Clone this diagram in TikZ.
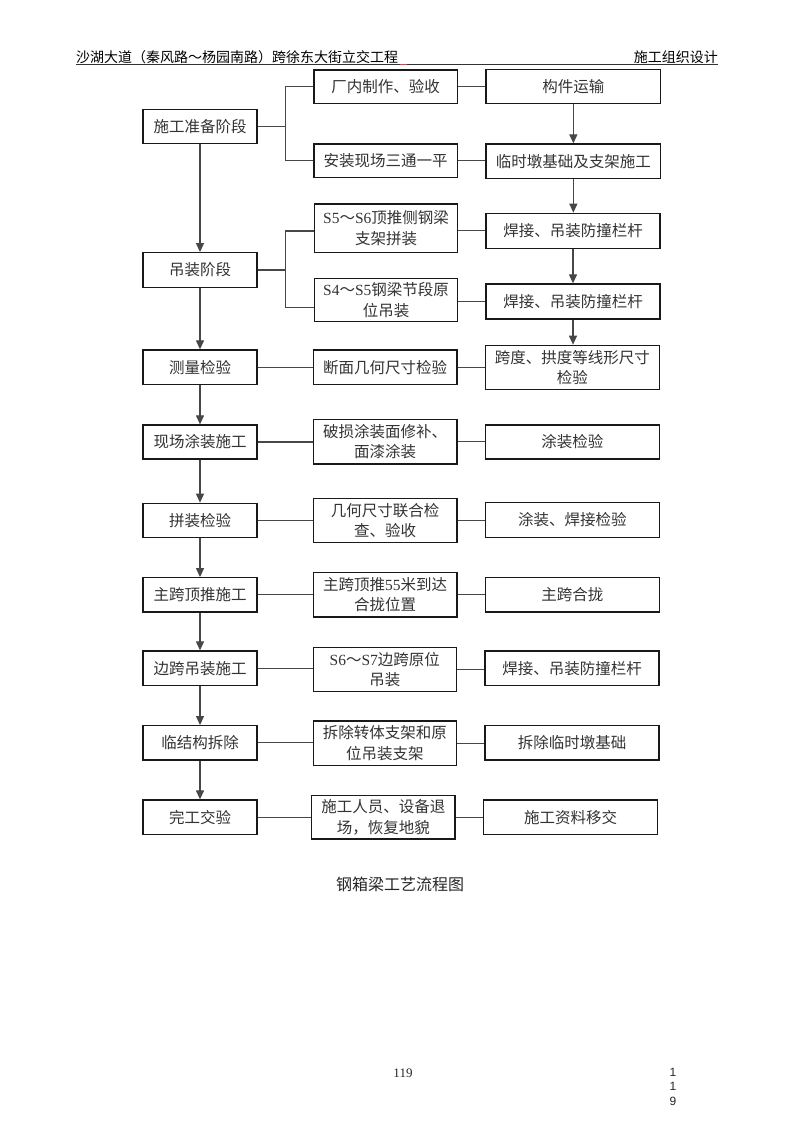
\documentclass[tikz,border=0pt]{standalone}
\usepackage{fontspec}
\setmainfont{Noto Sans CJK SC}
\newfontfamily\lat{Liberation Serif}
\newfontfamily\latsans{Liberation Sans}
\usetikzlibrary{arrows.meta}
\newcommand\bx[6]{\node[box,minimum width={#4-#2},minimum height={#5-#3}] (#1) at ({(#2+#4)/2},{(#3+#5)/2}) {#6};}
\begin{document}
\begin{tikzpicture}[x=1pt,y=-1pt,
  box/.style={draw=black!90, line width=1.3pt, align=center, inner sep=0pt,
    font=\fontsize{15.5}{20.5}\selectfont, text=black!80},
  link/.style={draw=black!72, line width=1.2pt},
  arr/.style={link, -{Triangle[width=8pt,length=9pt]}},
  hdr/.style={font=\fontsize{14}{14}\selectfont, inner sep=0pt, text=black}
]
\useasboundingbox[fill=white] (0,0) rectangle (800,1132);

% header
\node[hdr, anchor=west] (hl) at (76,57) {沙湖大道（秦风路～杨园南路）跨徐东大街立交工程};
\node[hdr, anchor=east] (hr) at (718,57) {施工组织设计};
\draw[black!80, line width=1pt] (76,64.5) -- (718,64.5);
\draw[red!80, line width=1pt] (400,64.5) -- (407,64.5);

% left column
\bx{L1}{143}{109.3}{257}{143.7}{施工准备阶段}
\bx{L2}{143}{252.7}{257}{287.3}{吊装阶段}
\bx{L3}{143}{350}{257}{384.7}{测量检验}
\bx{L4}{143}{425}{257}{459}{现场涂装施工}
\bx{L5}{143}{503.3}{257}{537.7}{拼装检验}
\bx{L6}{143}{577.7}{257}{612}{主跨顶推施工}
\bx{L7}{143}{651}{257}{685.3}{边跨吊装施工}
\bx{L8}{143}{725.7}{257}{760}{临结构拆除}
\bx{L9}{143}{800}{257}{834.3}{完工交验}

% middle column
\bx{M1}{314}{70}{457.3}{103.3}{厂内制作、验收}
\bx{M2}{314}{144}{457.3}{177.7}{安装现场三通一平}
\bx{M3}{314.3}{204}{457.7}{252.7}{{\lat S5}～{\lat S6}顶推侧钢梁\\支架拼装}
\bx{M4}{314.3}{278.3}{457.7}{321.7}{{\lat S4}～{\lat S5}钢梁节段原\\位吊装}
\bx{M5}{313.3}{350}{457}{384.7}{断面几何尺寸检验}
\bx{M6}{313.3}{419.3}{457}{464}{破损涂装面修补、\\面漆涂装}
\bx{M7}{313.3}{498.3}{457}{542.7}{几何尺寸联合检\\查、验收}
\bx{M8}{313.3}{572.7}{457}{617}{主跨顶推{\lat 55}米到达\\合拢位置}
\bx{M9}{313.3}{647.7}{456.3}{691.7}{{\lat S6}～{\lat S7}边跨原位\\吊装}
\bx{M10}{313.3}{721}{456.3}{765.3}{拆除转体支架和原\\位吊装支架}
\bx{M11}{311.7}{795.3}{455}{839}{施工人员、设备退\\场，恢复地貌}

% right column
\bx{R1}{486}{69.3}{660.7}{103.3}{构件运输}
\bx{R2}{486}{144}{660.7}{178.3}{临时墩基础及支架施工}
\bx{R3}{486}{213.3}{660}{248.3}{焊接、吊装防撞栏杆}
\bx{R4}{486}{284}{660}{319}{焊接、吊装防撞栏杆}
\bx{R5}{485.3}{345.3}{659.3}{389.7}{跨度、拱度等线形尺寸\\检验}
\bx{R6}{485.3}{425}{659.3}{459}{涂装检验}
\bx{R7}{485.3}{502.7}{659.3}{537.3}{涂装、焊接检验}
\bx{R8}{485.3}{577.7}{659.3}{612}{主跨合拢}
\bx{R9}{485}{651}{659}{685.3}{焊接、吊装防撞栏杆}
\bx{R10}{485}{725.7}{659}{760}{拆除临时墩基础}
\bx{R11}{483.3}{800}{657.7}{834.3}{施工资料移交}

% left vertical flow
\foreach \a/\b in {L1/L2,L2/L3,L3/L4,L4/L5,L5/L6,L6/L7,L7/L8,L8/L9}
  \draw[arr] (\a.south) -- (\b.north);

% branches
\coordinate (j1) at (285.7,126.5);
\draw[link] (L1.east) -- (j1);
\draw[link] (M1.west) -| (j1) |- (M2.west);
\coordinate (j2) at (285.7,270);
\coordinate (j2t) at (285.7,231);
\coordinate (j2b) at (285.7,307.3);
\draw[link] (L2.east) -- (j2);
\draw[link] (j2t -| M3.west) -- (j2t) -- (j2b) -- (j2b -| M4.west);

% middle to right (top part)
\draw[link] (M1.east) -- (M1.east -| R1.west);
\draw[link] (M2.east) -- (M2.east -| R2.west);
\draw[link] (M3.east |- R3.west) -- (R3.west);
\draw[link] (M4.east |- R4.west) -- (R4.west);

% right vertical arrows
\draw[arr] (R1.south) -- (R2.north);
\draw[arr] (R2.south) -- (R2.south |- R3.north);
\draw[arr] (R3.south) -- (R3.south |- R4.north);
\draw[arr] (R4.south) -- (R4.south |- R5.north);

% rows
\foreach \i in {5,...,11}{
  \pgfmathtruncatemacro\l{\i-2}
  \draw[link] (L\l.east) -- (L\l.east -| M\i.west);
  \draw[link] (M\i.east) -- (M\i.east -| R\i.west);
}

% caption and page numbers
\node[font=\fontsize{16}{16}\selectfont, text=black!85] (cap) at (400,884) {钢箱梁工艺流程图};
\node[font=\lat\fontsize{13}{13}\selectfont, text=black!85] (pg) at (403,1073) {119};
\node[font=\latsans\fontsize{12}{12}\selectfont, text=black!85] (p1) at (673,1072) {1};
\node[font=\latsans\fontsize{12}{12}\selectfont, text=black!85] (p2) at (673,1086.5) {1};
\node[font=\latsans\fontsize{12}{12}\selectfont, text=black!85] (p3) at (673,1101.5) {9};
\end{tikzpicture}
\end{document}
